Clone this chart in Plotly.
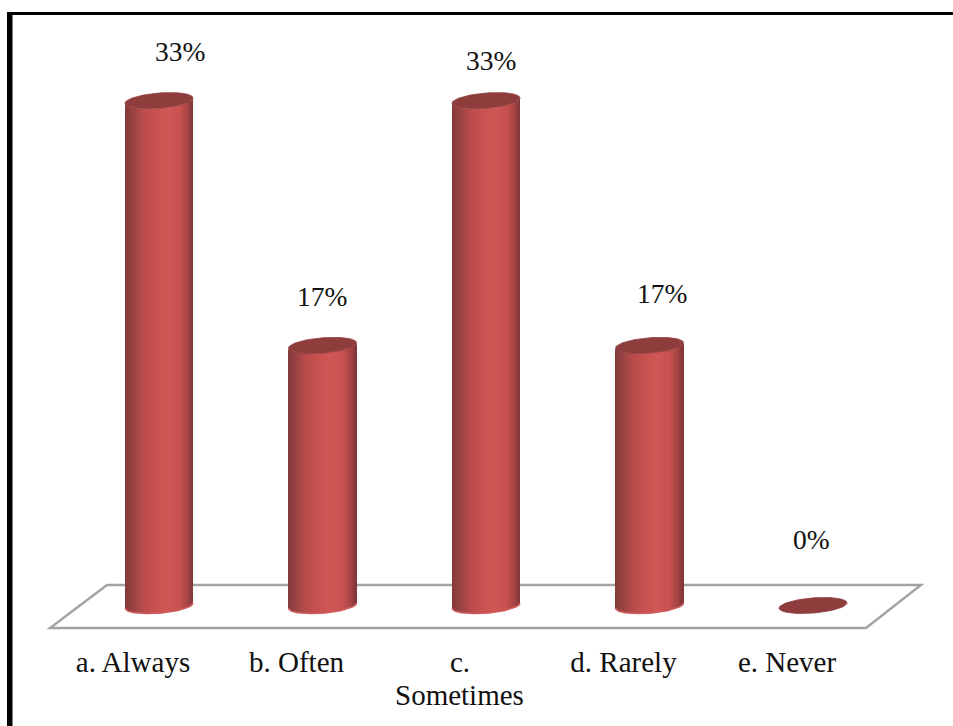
import numpy as np
import plotly.graph_objects as go

# Survey responses
categories = ["a. Always", "b. Often", "c.", "d. Rarely", "e. Never"]
category_continuation = {2: "Sometimes"}
percentages = [33, 17, 33, 17, 0]
value_labels = ["33%", "17%", "33%", "17%", "0%"]

# Scale of the drawing area
FIG_W, FIG_H = 953, 726
PX_PER_CAT = 163.5
PX_PER_PCT = 15.3
X0_PX = 159.0      # horizontal position of the first category
Y0_PX = 605.5      # vertical position of the zero level
PLOT_BOTTOM_PX = 640

RADIUS = 34.0 / PX_PER_CAT
MINOR = 7.6 / PX_PER_PCT
SHEAR = 2.6 / PX_PER_PCT
TICK_SHIFT = -26.0 / PX_PER_CAT
LABEL_SHIFTS = [21, -1, 5, 12, -2]
LABEL_GAPS = [49, 49, 40, 52, 66]
FLOOR_X = [(50 - X0_PX) / PX_PER_CAT, (866 - X0_PX) / PX_PER_CAT,
           (921 - X0_PX) / PX_PER_CAT, (107 - X0_PX) / PX_PER_CAT]
FLOOR_Y = [(Y0_PX - 628) / PX_PER_PCT, (Y0_PX - 628) / PX_PER_PCT,
           (Y0_PX - 585) / PX_PER_PCT, (Y0_PX - 585) / PX_PER_PCT]

SLICES = 68
SHADE_STOPS = [0.0, 0.1, 0.27, 0.45, 0.6, 0.8, 0.92, 1.0]
SHADE_RGB = [(130, 58, 58), (150, 66, 65), (185, 76, 75), (200, 82, 80),
             (208, 86, 84), (200, 82, 80), (165, 68, 68), (125, 55, 55)]
TOP_COLOR = "#8F3C3C"
FLOOR_COLOR = "#A3A3A3"
VALUE_FONT = dict(family="Liberation Serif", size=27.5, color="#111111")
TICK_FONT = dict(family="Liberation Serif", size=29, color="#111111")


def lower_edge(u):
    """Lower rim of the sheared ellipse, u in [-1, 1] across the cylinder."""
    return SHEAR * u - MINOR * np.sqrt(np.clip(1 - u * u, 0, 1))


def ellipse(center_x, level):
    t = np.linspace(0, 2 * np.pi, 90)
    return (center_x + RADIUS * np.cos(t),
            level + SHEAR * np.cos(t) + MINOR * np.sin(t))


def shade(f):
    return "rgb({},{},{})".format(*(int(round(np.interp(f, SHADE_STOPS, [c[i] for c in SHADE_RGB])))
                                    for i in range(3)))


fig = go.Figure()

# Cylinder bodies: one thin vertical slice per shading step
edges = np.linspace(-1, 1, SLICES + 1)
mids = (edges[:-1] + edges[1:]) / 2
slice_x, slice_base, slice_h, slice_c = [], [], [], []
for i, v in enumerate(percentages):
    if v <= 0:
        continue
    for u in mids:
        slice_x.append(i + u * RADIUS)
        slice_base.append(lower_edge(u))
        slice_h.append(v)
        slice_c.append(shade((u + 1) / 2))
fig.add_trace(go.Bar(x=slice_x, y=slice_h, base=slice_base, width=2 * RADIUS / SLICES,
                     marker=dict(color=slice_c, line=dict(width=0)), hoverinfo="skip"))

# Soft rim along the base of every cylinder
for i, v in enumerate(percentages):
    if v <= 0:
        continue
    u = np.linspace(-1, 1, 60)
    fig.add_trace(go.Scatter(x=i + u * RADIUS, y=lower_edge(u), mode="lines",
                             line=dict(color="#CF5C5A", width=1.6), hoverinfo="skip"))

# Top caps, placed at each value
for i, v in enumerate(percentages):
    ex, ey = ellipse(i, v)
    fig.add_trace(go.Scatter(x=ex, y=ey, mode="lines", fill="toself", fillcolor=TOP_COLOR,
                             line=dict(color=TOP_COLOR, width=0.8), hoverinfo="skip"))

# Value labels sit above their cylinders
for i, (v, text) in enumerate(zip(percentages, value_labels)):
    fig.add_annotation(x=i, y=v, text=text, showarrow=False, font=VALUE_FONT,
                       xshift=LABEL_SHIFTS[i], yshift=LABEL_GAPS[i])

# Second line of a wrapped category name
y_bottom = (Y0_PX - PLOT_BOTTOM_PX) / PX_PER_PCT
for i, text in category_continuation.items():
    fig.add_annotation(x=i + TICK_SHIFT, y=y_bottom, text=text, showarrow=False, font=TICK_FONT,
                       yanchor="middle", yshift=-55, xshift=-1)

fig.update_layout(
    width=FIG_W, height=FIG_H, margin=dict(l=0, r=0, t=0, b=FIG_H - PLOT_BOTTOM_PX),
    paper_bgcolor="white", plot_bgcolor="white", showlegend=False, barmode="overlay",
    xaxis=dict(range=[-X0_PX / PX_PER_CAT, (FIG_W - X0_PX) / PX_PER_CAT], showgrid=False,
               zeroline=False, showline=False, ticks="", ticklabelstandoff=2,
               tickmode="array", tickvals=[i + TICK_SHIFT for i in range(len(categories))],
               ticktext=categories, tickfont=TICK_FONT, tickangle=0),
    yaxis=dict(range=[y_bottom, Y0_PX / PX_PER_PCT], visible=False),
    shapes=[
        # Floor behind the cylinders
        dict(type="path", layer="below", xref="x", yref="y",
             path="M " + " L ".join(f"{x},{y}" for x, y in zip(FLOOR_X, FLOOR_Y)) + " Z",
             line=dict(color=FLOOR_COLOR, width=2.4)),
        # Frame: heavy left rule and thinner top rule
        dict(type="rect", xref="paper", yref="paper", x0=7 / FIG_W, x1=12.5 / FIG_W, y0=-1,
             y1=1 - 12 / PLOT_BOTTOM_PX, fillcolor="black", line_width=0),
        dict(type="rect", xref="paper", yref="paper", x0=7 / FIG_W, x1=1,
             y0=1 - 15 / PLOT_BOTTOM_PX, y1=1 - 12 / PLOT_BOTTOM_PX, fillcolor="black", line_width=0),
    ],
)

fig.write_html("out.html")
